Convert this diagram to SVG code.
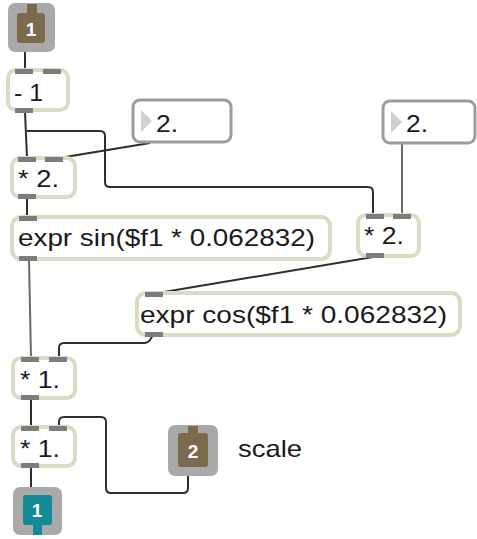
<svg xmlns="http://www.w3.org/2000/svg" width="477" height="539" viewBox="0 0 477 539">
<style>
.obj{fill:#fff;stroke:#d5dec2;stroke-width:4}
.num{fill:#fff;stroke:#9c9c9c;stroke-width:3}
.port{fill:#7d7d7d}
.t{font-family:"Liberation Sans",Arial,sans-serif;font-size:24px;fill:#1a1a1a}
.io{fill:#a9a9a9}
.lbl{font-family:"Liberation Sans",Arial,sans-serif;font-size:19px;font-weight:bold;fill:#fff}
.c{fill:none;stroke:#2e2e2e;stroke-width:2}
.c2{fill:none;stroke:#6a6a6a;stroke-width:2}
.tri{fill:#cfcfcf}
</style>
<rect width="477" height="539" fill="#fff"/>
<g id="connectors">
<path class="c" d="M25,52 V70"/>
<path class="c" d="M25,112 L27,158"/>
<path class="c" d="M27,131 H100 Q105,131 105,136 V182 Q105,187 110,187 H368 Q373,187 373,192 V215"/>
<path class="c" d="M150,143 L53,159"/>
<path class="c2" d="M402,143 V215"/>
<path class="c" d="M373,257 L152,294"/>
<path class="c" d="M27,197 V217"/>
<path class="c2" d="M29,260 L31,358"/>
<path class="c" d="M153,335 L150,340 Q148,343 144,343 H64 Q59,343 59,348 V358"/>
<path class="c" d="M31,398 V427"/>
<path class="c" d="M188,476 V488 Q188,493 183,493 H111 Q106,493 106,488 V422 Q106,417 101,417 H64 Q59,417 59,422 V427"/>
<path class="c" d="M31,465 V487"/>
</g>
<g id="in1">
<rect class="io" x="8" y="3" width="47" height="49" rx="7"/>
<path fill="#7b6a4e" d="M27,4 H37 V13 H42 Q45,13 45,16 V40 Q45,43 42,43 H20 Q17,43 17,40 V16 Q17,13 20,13 H27 Z"/>
<text class="lbl" x="31" y="36" text-anchor="middle">1</text>
</g>
<g id="minus1">
<rect class="obj" x="8" y="70" width="60" height="40" rx="8"/>
<rect class="port" x="15" y="69" width="18" height="5"/>
<rect class="port" x="43" y="69" width="18" height="5"/>
<rect class="port" x="15" y="108" width="18" height="5"/>
<text class="t" x="14" y="101" textLength="29" lengthAdjust="spacingAndGlyphs">- 1</text>
</g>
<g id="num1">
<rect class="num" x="133" y="100" width="98" height="42" rx="7"/>
<path class="tri" d="M141,110 L152,121 L141,132 Z"/>
<text class="t" x="156" y="132" textLength="22" lengthAdjust="spacingAndGlyphs">2.</text>
</g>
<g id="mul2a">
<rect class="obj" x="12" y="158" width="63" height="39" rx="8"/>
<rect class="port" x="18" y="157" width="18" height="5"/>
<rect class="port" x="45" y="157" width="18" height="5"/>
<rect class="port" x="18" y="194" width="18" height="5"/>
<text class="t" x="18" y="187" textLength="41" lengthAdjust="spacingAndGlyphs">* 2.</text>
</g>
<g id="num2">
<rect class="num" x="383" y="101" width="92" height="42" rx="7"/>
<path class="tri" d="M391,111 L402,122 L391,133 Z"/>
<text class="t" x="406" y="132" textLength="22" lengthAdjust="spacingAndGlyphs">2.</text>
</g>
<g id="mul2b">
<rect class="obj" x="358" y="215" width="61" height="41" rx="8"/>
<rect class="port" x="366" y="214" width="18" height="5"/>
<rect class="port" x="393" y="214" width="18" height="5"/>
<rect class="port" x="366" y="253" width="18" height="5"/>
<text class="t" x="364" y="244" textLength="40" lengthAdjust="spacingAndGlyphs">* 2.</text>
</g>
<g id="exprsin">
<rect class="obj" x="12" y="217" width="318" height="42" rx="9"/>
<rect class="port" x="19" y="216" width="18" height="5"/>
<rect class="port" x="19" y="256" width="18" height="5"/>
<text class="t" x="18" y="246" textLength="297" lengthAdjust="spacingAndGlyphs">expr sin($f1 * 0.062832)</text>
</g>
<g id="exprcos">
<rect class="obj" x="137" y="293" width="323" height="42" rx="9"/>
<rect class="port" x="145" y="292" width="18" height="5"/>
<rect class="port" x="145" y="332" width="18" height="5"/>
<text class="t" x="140" y="323" textLength="307" lengthAdjust="spacingAndGlyphs">expr cos($f1 * 0.062832)</text>
</g>
<g id="mul1a">
<rect class="obj" x="13" y="358" width="62" height="40" rx="8"/>
<rect class="port" x="21" y="357" width="18" height="5"/>
<rect class="port" x="49" y="357" width="18" height="5"/>
<rect class="port" x="21" y="395" width="18" height="5"/>
<text class="t" x="20" y="388" textLength="40" lengthAdjust="spacingAndGlyphs">* 1.</text>
</g>
<g id="mul1b">
<rect class="obj" x="13" y="427" width="62" height="39" rx="8"/>
<rect class="port" x="21" y="426" width="18" height="5"/>
<rect class="port" x="49" y="426" width="18" height="5"/>
<rect class="port" x="21" y="463" width="18" height="5"/>
<text class="t" x="20" y="457" textLength="40" lengthAdjust="spacingAndGlyphs">* 1.</text>
</g>
<g id="in2">
<rect class="io" x="168" y="425" width="50" height="51" rx="7"/>
<path fill="#7b6a4e" d="M188,426 H198 V433 H205 Q208,433 208,436 V464 Q208,467 205,467 H181 Q178,467 178,464 V436 Q178,433 181,433 H188 Z"/>
<text class="lbl" x="193" y="458" text-anchor="middle">2</text>
</g>
<g id="scale">
<text class="t" x="238" y="457" textLength="64" lengthAdjust="spacingAndGlyphs" fill="#333">scale</text>
</g>
<g id="out1">
<rect class="io" x="13" y="487" width="49" height="48" rx="7"/>
<path fill="#138a96" d="M26,495 H49 Q52,495 52,498 V522 Q52,525 49,525 H42 V535 H33 V525 H26 Q23,525 23,522 V498 Q23,495 26,495 Z"/>
<text class="lbl" x="37" y="517" text-anchor="middle">1</text>
</g>
</svg>
